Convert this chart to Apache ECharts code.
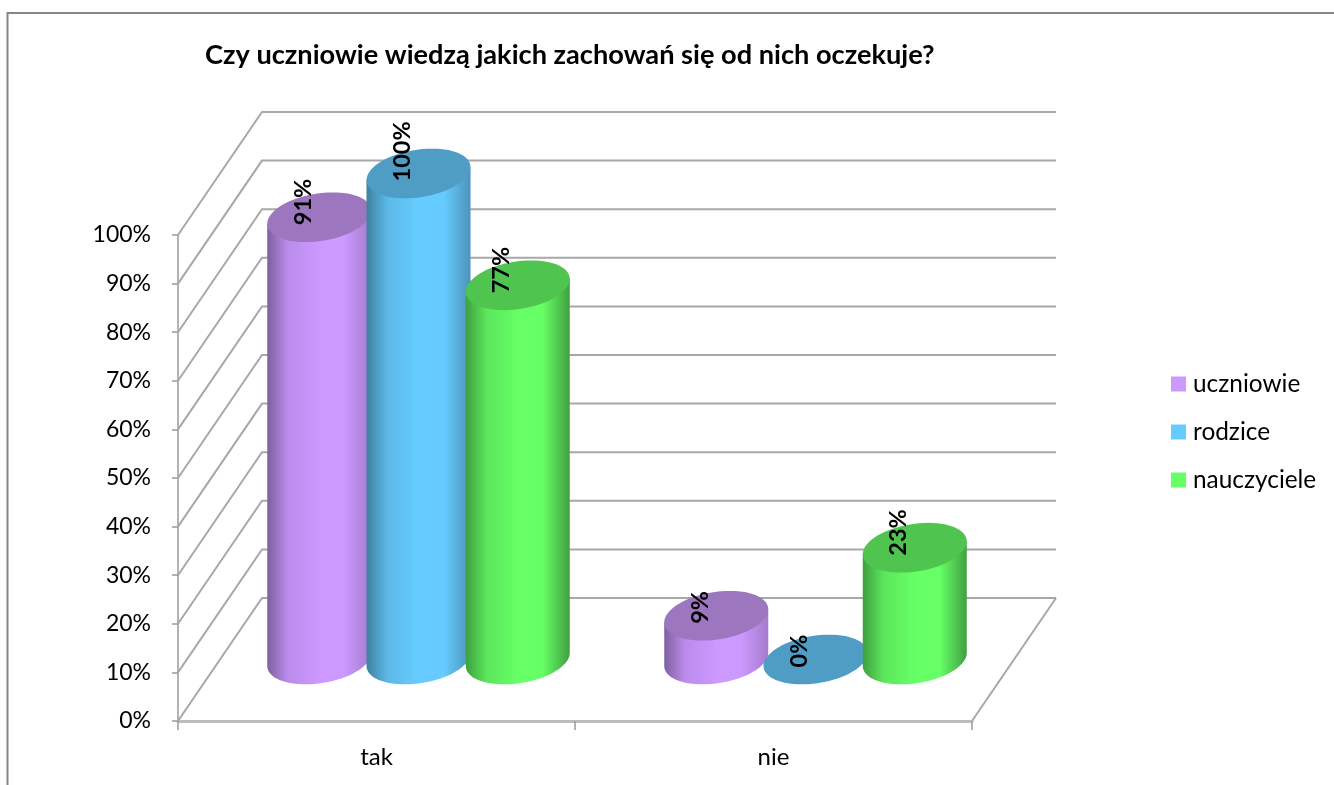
<!DOCTYPE html>
<html>
<head>
<meta charset="utf-8">
<script src="https://cdn.jsdelivr.net/npm/echarts@6/dist/echarts.min.js"></script>
<style>html,body{margin:0;padding:0;background:#fff}#c{width:1334px;height:785px}</style>
</head>
<body>
<div id="c"></div>
<script>
const titleText = 'Czy uczniowie wiedzą jakich zachowań się od nich oczekuje?';
const categories = ['tak', 'nie'];
const uczniowie = [91, 9];
const rodzice = [100, 0];
const nauczyciele = [77, 23];
const yTicks = [0, 10, 20, 30, 40, 50, 60, 70, 80, 90, 100];

const FONT = 'Lato';
const DEPTH_X = 84, DEPTH_Y = -123;
const HW = 52, RISE = 6.5, MINOR = 24;
const GRID_C = '#a8a8a8';

function ringPoint(cx, cy, t) {
  return [cx + HW * Math.cos(t), cy - RISE * Math.cos(t) + MINOR * Math.sin(t)];
}
function ellipsePts(cx, cy) {
  const p = [];
  for (let i = 0; i < 72; i++) p.push(ringPoint(cx, cy, i / 72 * Math.PI * 2));
  return p;
}
function sidePts(cx, topY, baseY) {
  const p = [];
  for (let i = 0; i <= 36; i++) p.push(ringPoint(cx, baseY, i / 36 * Math.PI));
  p.push(ringPoint(cx, topY, Math.PI));
  p.push(ringPoint(cx, topY, 0));
  return p;
}
function cylinder(slot, stops, topColor) {
  return function (params, api) {
    const cat = api.value(0), val = api.value(1);
    const base = api.coord([cat, 0]), top = api.coord([cat, val]);
    const spacing = api.size([1, 0])[0] * 0.25;
    const cx = base[0] + DEPTH_X / 2 + slot * spacing;
    const baseY = base[1] + DEPTH_Y / 2;
    const topY = top[1] + DEPTH_Y / 2;
    const children = [];
    if (val > 0) {
      children.push({
        type: 'polygon',
        shape: { points: sidePts(cx, topY, baseY) },
        style: { fill: { type: 'linear', x: 0, y: 0, x2: 1, y2: 0, colorStops: stops } }
      });
    }
    children.push({ type: 'polygon', shape: { points: ellipsePts(cx, topY) }, style: { fill: topColor } });
    children.push({
      type: 'text',
      x: cx - 16, y: topY + 8, rotation: Math.PI / 2,
      style: { text: val + '%', fill: '#000', font: 'bold 23.5px ' + FONT, align: 'left', verticalAlign: 'middle' }
    });
    return { type: 'group', children };
  };
}
function stops(dark, mid, light, right) {
  return [
    { offset: 0, color: dark }, { offset: 0.2, color: mid },
    { offset: 0.5, color: light }, { offset: 0.74, color: light },
    { offset: 1, color: right }
  ];
}
function renderGrid(params, api) {
  const v = api.value(1), cs = params.coordSys;
  const p = api.coord([0, v]);
  const x0 = cs.x, y0 = p[1];
  const bx0 = x0 + DEPTH_X, by0 = y0 + DEPTH_Y, bx1 = cs.x + cs.width + DEPTH_X;
  const line = { stroke: GRID_C, lineWidth: 2, fill: null };
  const ch = [
    { type: 'polyline', shape: { points: [[x0, y0], [bx0, by0], [bx1, by0]] }, style: line }
  ];
  if (v === 0) {
    ch.push({ type: 'line', shape: { x1: cs.x + cs.width, y1: y0, x2: bx1, y2: by0 }, style: line });
  }
  return { type: 'group', children: ch };
}
function toPairs(arr) { return arr.map((v, i) => [i, v]); }

const chart = echarts.init(document.getElementById('c'), null, { renderer: 'canvas' });
chart.setOption({
  animation: false,
  backgroundColor: '#fff',
  title: {
    text: titleText, left: 200, top: 37,
    textStyle: { fontFamily: FONT, fontWeight: 'bold', fontSize: 27.2, color: '#000' }
  },
  legend: {
    orient: 'vertical', left: 1171, top: 372, padding: 0,
    itemWidth: 15, itemHeight: 15, itemGap: 24,
    icon: 'rect',
    data: ['uczniowie', 'rodzice', 'nauczyciele'],
    textStyle: { fontFamily: FONT, fontSize: 24.4, color: '#000', padding: [0, 0, 0, 2] }
  },
  grid: { left: 178, right: 362, top: 235, bottom: 64 },
  xAxis: {
    type: 'category', data: categories,
    axisLine: { show: true, lineStyle: { color: '#bdbdbd', width: 3 } },
    axisTick: { show: true, length: 9, alignWithLabel: false, lineStyle: { color: '#9a9a9a', width: 1.5 } },
    axisLabel: { fontFamily: FONT, fontSize: 24, color: '#000', margin: 24 }
  },
  yAxis: {
    type: 'value', min: 0, max: 100, interval: 10,
    axisLine: { show: true, lineStyle: { color: '#b3b3b3', width: 2 } },
    axisTick: { show: true, length: 6, lineStyle: { color: '#9a9a9a', width: 1.5 } },
    splitLine: { show: false },
    axisLabel: { fontFamily: FONT, fontSize: 23, color: '#000', margin: 27, padding: [3, 0, 0, 0], formatter: '{value}%' }
  },
  series: [
    { type: 'custom', name: 'grid3d', renderItem: renderGrid, data: yTicks.map(t => [0, t]), z: 1, silent: true },
    { type: 'custom', name: 'uczniowie', z: 2, itemStyle: { color: '#cc99ff' }, data: toPairs(uczniowie),
      renderItem: cylinder(-1, stops('#7f5f9f', '#bb8ceb', '#cc99ff', '#a47bcc'), '#9d76c0') },
    { type: 'custom', name: 'rodzice', z: 3, itemStyle: { color: '#66ccff' }, data: toPairs(rodzice),
      renderItem: cylinder(0, stops('#3f80a0', '#5cb8e6', '#66ccff', '#4a94bb'), '#4f9dc5') },
    { type: 'custom', name: 'nauczyciele', z: 4, itemStyle: { color: '#66ff66' }, data: toPairs(nauczyciele),
      renderItem: cylinder(1, stops('#3f9f3f', '#5ce65c', '#66ff66', '#409f40'), '#4fc44f') }
  ],
  graphic: [
    { type: 'polyline', shape: { points: [[7.5, 785], [7.5, 13], [1334, 13]] },
      style: { stroke: '#868686', lineWidth: 2, fill: null }, silent: true }
  ]
});
</script>
</body>
</html>
